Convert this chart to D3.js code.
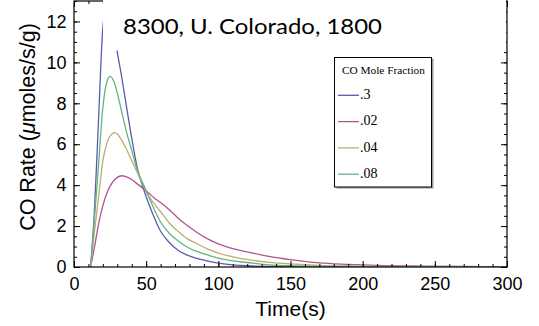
<!DOCTYPE html>
<html><head><meta charset="utf-8">
<script src="https://cdn.jsdelivr.net/npm/d3@7"></script>
<style>
html,body{margin:0;padding:0;background:#fff;}
svg{display:block;}
</style></head>
<body>
<svg id="chart" width="539" height="326"></svg>
<script>
// ---- data ----
const times   = [11.5, 14, 17, 20, 23, 25, 28, 30, 33, 36, 40, 44, 48, 52, 56, 60, 66, 72, 78, 85, 92, 100, 110, 120, 135, 150, 170, 190, 210, 240, 270, 300];
const serCO30 = [0, 2.5, 7.2, 11.7, 12.9, 12.6, 11.4, 10.5, 9.3, 8.0, 6.3, 4.8, 3.85, 3.05, 2.35, 1.75, 1.2, 0.82, 0.59, 0.42, 0.3, 0.19, 0.1, 0.06, 0.03, 0.02, 0.01, 0.005, 0.003, 0.002, 0.001, 0];
const serCO02 = [0, 0.9, 2.1, 3.0, 3.65, 3.95, 4.25, 4.38, 4.46, 4.42, 4.28, 4.05, 3.84, 3.6, 3.35, 3.15, 2.8, 2.4, 2.05, 1.7, 1.4, 1.13, 0.9, 0.74, 0.52, 0.36, 0.2, 0.13, 0.08, 0.045, 0.025, 0.015];
const serCO04 = [0, 1.6, 3.4, 5.2, 6.1, 6.4, 6.57, 6.5, 6.2, 5.8, 5.2, 4.6, 4.0, 3.45, 3.05, 2.7, 2.15, 1.75, 1.4, 1.15, 0.9, 0.68, 0.5, 0.37, 0.23, 0.15, 0.08, 0.05, 0.035, 0.02, 0.01, 0.005];
const serCO08 = [0, 2.2, 5.0, 7.8, 9.1, 9.32, 9.0, 8.5, 7.6, 6.7, 5.7, 4.7, 4.05, 3.4, 2.75, 2.2, 1.65, 1.28, 0.99, 0.76, 0.6, 0.43, 0.3, 0.22, 0.1, 0.06, 0.03, 0.02, 0.01, 0.005, 0.003, 0];
const seriesNames = [".3", ".02", ".04", ".08"];
const xTickLabels = [0, 50, 100, 150, 200, 250, 300];
const yTickLabels = [0, 2, 4, 6, 8, 10, 12];
const titleText = "8300, U. Colorado, 1800";
const legendTitle = "CO Mole Fraction";

// ---- layout ----
const colors = ["#5b5bb0", "#b1548f", "#bcae74", "#63b47f"];
const seriesVals = [serCO30, serCO02, serCO04, serCO08];
const L = 74, R = 507, T = 1, B = 267;

const svg = d3.select("#chart");
const x = d3.scaleLinear().domain([0, 300]).range([L, R]);
const y = d3.scaleLinear().domain([0, 13]).range([B, T]);

svg.append("defs").append("clipPath").attr("id", "clip")
  .append("rect").attr("x", L).attr("y", T).attr("width", R - L).attr("height", B - T);

// curves
const line = d3.line().x(d => x(d[0])).y(d => y(d[1])).curve(d3.curveMonotoneX);
const g = svg.append("g").attr("clip-path", "url(#clip)");
seriesVals.forEach((vals, i) => {
  g.append("path")
    .datum(times.map((t, k) => [t, vals[k]]))
    .attr("d", line)
    .attr("fill", "none")
    .attr("stroke", colors[i])
    .attr("stroke-width", 1.3);
});

// axes
const fontSans = "'Liberation Sans', Arial, sans-serif";
function styleAxis(sel) {
  sel.select(".domain").remove();
  sel.selectAll("line").attr("stroke", "#000").attr("stroke-width", 1);
  sel.selectAll("text").attr("font-family", fontSans).attr("font-size", 18).attr("fill", "#000");
}
const xMinor = d3.range(0, 301, 10);
const yMinor = d3.range(0, 13.01, 0.5);

svg.append("g").attr("transform", `translate(0,${B})`)
  .call(d3.axisBottom(x).tickValues(xMinor).tickSize(-3).tickSizeOuter(0).tickFormat(""))
  .call(styleAxis);
svg.append("g").attr("transform", `translate(0,${B})`)
  .call(d3.axisBottom(x).tickValues(xTickLabels).tickSize(-6).tickSizeOuter(0).tickPadding(10).tickFormat(d3.format("d")))
  .call(styleAxis);
svg.append("g").attr("transform", `translate(0,${T})`)
  .call(d3.axisTop(x).tickValues(xMinor).tickSize(-3).tickSizeOuter(0).tickFormat(""))
  .call(styleAxis);
svg.append("g").attr("transform", `translate(0,${T})`)
  .call(d3.axisTop(x).tickValues(xTickLabels).tickSize(-6).tickSizeOuter(0).tickFormat(""))
  .call(styleAxis);

svg.append("g").attr("transform", `translate(${L},0)`)
  .call(d3.axisLeft(y).tickValues(yMinor).tickSize(-3).tickSizeOuter(0).tickFormat(""))
  .call(styleAxis);
svg.append("g").attr("transform", `translate(${L},0)`)
  .call(d3.axisLeft(y).tickValues(yTickLabels).tickSize(-6).tickSizeOuter(0).tickPadding(7.5).tickFormat(d3.format("d")))
  .call(styleAxis);
svg.append("g").attr("transform", `translate(${R},0)`)
  .call(d3.axisRight(y).tickValues(yMinor).tickSize(-3).tickSizeOuter(0).tickFormat(""))
  .call(styleAxis);
svg.append("g").attr("transform", `translate(${R},0)`)
  .call(d3.axisRight(y).tickValues(yTickLabels).tickSize(-6).tickSizeOuter(0).tickFormat(""))
  .call(styleAxis);

// frame
svg.append("rect").attr("x", L).attr("y", T).attr("width", R - L).attr("height", B - T)
  .attr("fill", "none").attr("stroke", "#000").attr("stroke-width", 1.2);

// axis titles
svg.append("text").attr("x", (L + R) / 2).attr("y", 316).attr("text-anchor", "middle")
  .attr("font-family", fontSans).attr("font-size", 21).text("Time(s)");
const yl = svg.append("text").attr("transform", "translate(35,127) rotate(-90)")
  .attr("text-anchor", "middle").attr("font-family", fontSans).attr("font-size", 21.5);
yl.append("tspan").text("CO Rate (");
yl.append("tspan").attr("font-style", "italic").text("\u03bc");
yl.append("tspan").text("moles/s/g)");

// title box (white, covers the frame behind it)
svg.append("rect").attr("x", 103).attr("y", 0).attr("width", 403).attr("height", 50.5).attr("fill", "#fff");
svg.append("text").attr("x", 123).attr("y", 33.5)
  .attr("font-family", "Lato, 'Open Sans', sans-serif").attr("font-size", 22)
  .attr("textLength", 259).attr("lengthAdjust", "spacingAndGlyphs").text(titleText);

// legend
const lg = svg.append("g");
lg.append("rect").attr("x", 336.5).attr("y", 58.5).attr("width", 97).attr("height", 130).attr("fill", "#999");
lg.append("rect").attr("x", 334.5).attr("y", 57.5).attr("width", 97).attr("height", 129.5)
  .attr("fill", "#fff").attr("stroke", "#000").attr("stroke-width", 1);
const fontSerif = "'Liberation Serif', 'Times New Roman', serif";
lg.append("text").attr("x", 342).attr("y", 74).attr("font-family", fontSerif).attr("font-size", 11.3).text(legendTitle);
seriesNames.forEach((n, i) => {
  const yy = 95.3 + i * 26.3;
  lg.append("line").attr("x1", 338).attr("x2", 359).attr("y1", yy).attr("y2", yy)
    .attr("stroke", colors[i]).attr("stroke-width", 1.3);
  lg.append("text").attr("x", 360).attr("y", yy + 3.8).attr("font-family", fontSerif).attr("font-size", 14).text(n);
});
</script>
</body></html>
